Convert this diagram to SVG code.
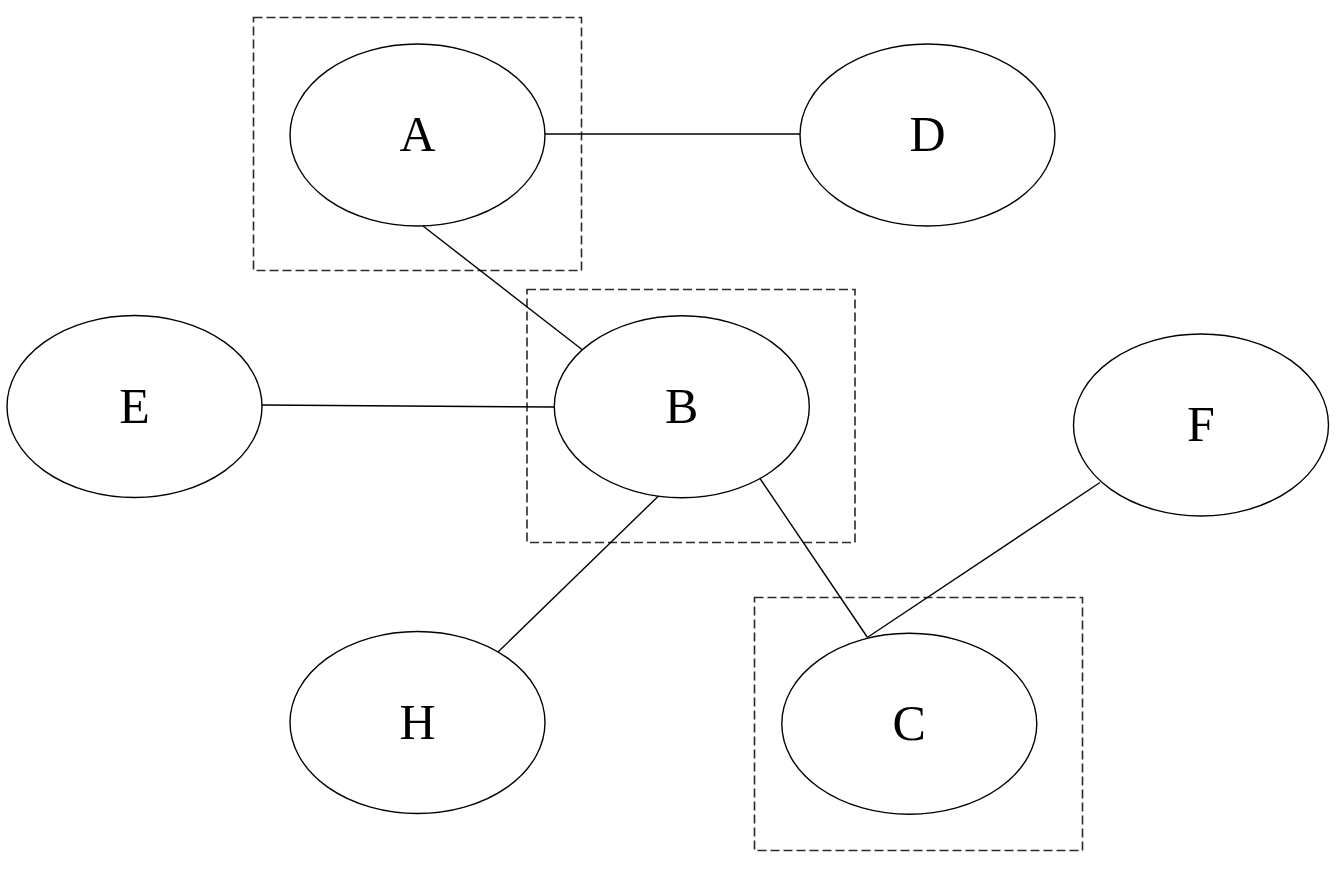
<svg xmlns="http://www.w3.org/2000/svg" width="1340" height="869" viewBox="0 0 1340 869">
  <style>
    .node ellipse { fill: #ffffff; stroke: #000000; stroke-width: 1.4; }
    .node text { font-family: "Liberation Serif", "Times New Roman", serif; font-size: 50px; fill: #000000; text-anchor: middle; }
    .group { fill: none; stroke: #2a2a2a; stroke-width: 1.6; stroke-dasharray: 9 4; }
    .edge { stroke: #000000; stroke-width: 1.4; fill: none; }
  </style>
  <rect width="1340" height="869" fill="#ffffff"/>

  <!-- dashed cluster frames -->
  <g id="clusters">
    <rect class="group" x="253.5" y="17.5" width="328" height="253"/>
    <rect class="group" x="527" y="289.5" width="328" height="253"/>
    <rect class="group" x="754.5" y="597.5" width="328" height="253"/>
  </g>

  <!-- edges -->
  <g id="edges">
    <line class="edge" x1="545" y1="134" x2="800" y2="134"/>
    <line class="edge" x1="423" y1="226" x2="582" y2="349.5"/>
    <line class="edge" x1="262" y1="405" x2="554.5" y2="407"/>
    <line class="edge" x1="658.5" y1="496" x2="497" y2="653"/>
    <line class="edge" x1="760" y1="478.5" x2="867.5" y2="637.5"/>
    <line class="edge" x1="1100" y1="482.5" x2="868" y2="637"/>
  </g>

  <g id="node-A" class="node">
    <ellipse cx="417.5" cy="135" rx="127.5" ry="91"/>
    <text x="417.5" y="151">A</text>
  </g>
  <g id="node-D" class="node">
    <ellipse cx="927.5" cy="135" rx="127.5" ry="91"/>
    <text x="927.5" y="151">D</text>
  </g>
  <g id="node-E" class="node">
    <ellipse cx="134.5" cy="406.5" rx="127.5" ry="91"/>
    <text x="134.5" y="422.5">E</text>
  </g>
  <g id="node-B" class="node">
    <ellipse cx="681.8" cy="406.7" rx="127.5" ry="91"/>
    <text x="681.8" y="422.5">B</text>
  </g>
  <g id="node-F" class="node">
    <ellipse cx="1201" cy="425" rx="127.5" ry="91"/>
    <text x="1201" y="441">F</text>
  </g>
  <g id="node-H" class="node">
    <ellipse cx="417.5" cy="722.5" rx="127.5" ry="91"/>
    <text x="417.5" y="738.5">H</text>
  </g>
  <g id="node-C" class="node">
    <ellipse cx="909.3" cy="723.8" rx="127.5" ry="90.5"/>
    <text x="909.3" y="739.5">C</text>
  </g>
</svg>
